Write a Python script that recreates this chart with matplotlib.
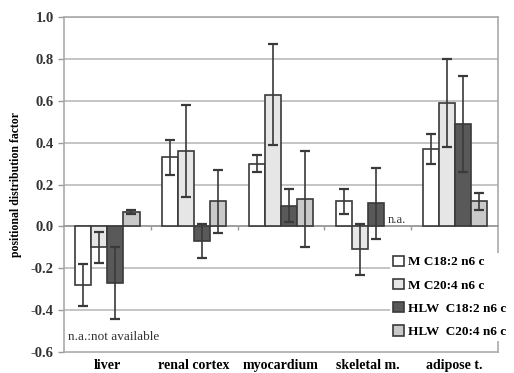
import numpy as np
import matplotlib.pyplot as plt

tissues = ['liver', 'renal cortex', 'myocardium', 'skeletal m.', 'adipose t.']
series = ['M C18:2 n6 c', 'M C20:4 n6 c', 'HLW  C18:2 n6 c', 'HLW  C20:4 n6 c']

m_c18 = [-0.28, 0.33, 0.30, 0.12, 0.37]
m_c18_err = [0.10, 0.085, 0.04, 0.06, 0.07]
m_c20 = [-0.10, 0.36, 0.63, -0.11, 0.59]
m_c20_err = [0.075, 0.22, 0.24, 0.12, 0.21]
hlw_c18 = [-0.27, -0.07, 0.10, 0.11, 0.49]
hlw_c18_err = [0.17, 0.08, 0.08, 0.17, 0.23]
hlw_c20 = [0.07, 0.12, 0.13, np.nan, 0.12]
hlw_c20_err = [0.01, 0.15, 0.23, np.nan, 0.04]

values = [m_c18, m_c20, hlw_c18, hlw_c20]
errors = [m_c18_err, m_c20_err, hlw_c18_err, hlw_c20_err]
colors = ['#ffffff', '#e6e6e6', '#595959', '#c9c9c9']

plt.rcParams['font.family'] = ['Liberation Serif', 'DejaVu Serif']

fig = plt.figure(figsize=(5.14, 3.73), dpi=100)
ax = fig.add_axes([0.1245, 0.0563, 0.8445, 0.8977])

x = np.arange(len(tissues))
w = 0.185
for i in range(4):
    pos = x + (i - 1.5) * w
    ax.bar(pos, values[i], w, color=colors[i], edgecolor='#3a3a3a', linewidth=1.2,
           label=series[i], zorder=3)
    ax.errorbar(pos, values[i], yerr=errors[i], fmt='none', ecolor='#3a3a3a',
                elinewidth=1.2, capsize=3.5, capthick=1.6, zorder=4)

# n.a. label where HLW C20:4 is missing for skeletal muscle
ax.text(x[3] + 1.5 * w - w / 2 + 0.04, 0.0, 'n.a.', fontsize=9, va='bottom',
        ha='left', color='#333333', zorder=5)
ax.text(0.01, 0.035, 'n.a.:not available', transform=ax.transAxes, fontsize=9.5,
        color='#333333')

ax.set_xlim(-0.5, len(tissues) - 0.5)
ax.set_ylim(-0.6, 1.0)
ax.set_yticks(np.arange(-0.6, 1.01, 0.2))
ax.set_yticklabels(['%.1f' % v for v in np.arange(-0.6, 1.01, 0.2)],
                   fontsize=10.5, fontweight='bold', color='#333333')
ax.yaxis.grid(True, color='#bbbbbb', linewidth=1.2, zorder=0)
ax.set_axisbelow(True)
ax.tick_params(axis='y', length=4, color='#999999', width=1)

# zero line with ticks between categories
ax.spines['bottom'].set_position(('data', 0))
ax.spines['bottom'].set_color('#999999')
ax.spines['bottom'].set_linewidth(1.2)
ax.set_xticks(np.arange(0.5, len(tissues) - 0.5, 1))
ax.set_xticklabels([])
ax.tick_params(axis='x', length=3, color='#999999', width=1)

for s in ['left', 'top', 'right']:
    ax.spines[s].set_color('#aaaaaa')
    ax.spines[s].set_linewidth(1.2)

sec = ax.secondary_xaxis(0)
sec.set_xticks(x)
sec.set_xticklabels(tissues, fontsize=10, fontweight='bold')
sec.tick_params(length=0, pad=5)
sec.spines['bottom'].set_color('#aaaaaa')
sec.spines['bottom'].set_linewidth(1.2)

ax.set_ylabel('positional distribution factor', fontsize=8.5, fontweight='bold',
              labelpad=6)

leg = ax.legend(loc='upper left', bbox_to_anchor=(0.752, 0.295), frameon=True,
                prop={'size': 9.5, 'weight': 'bold'}, handlelength=0.8,
                handleheight=0.8, handletextpad=0.3, labelspacing=0.8,
                borderpad=0.2, borderaxespad=0)
leg.get_frame().set_edgecolor('none')
leg.get_frame().set_facecolor('white')
leg.get_frame().set_alpha(1)
leg.set_zorder(6)

fig.savefig('out.png', dpi=100)
